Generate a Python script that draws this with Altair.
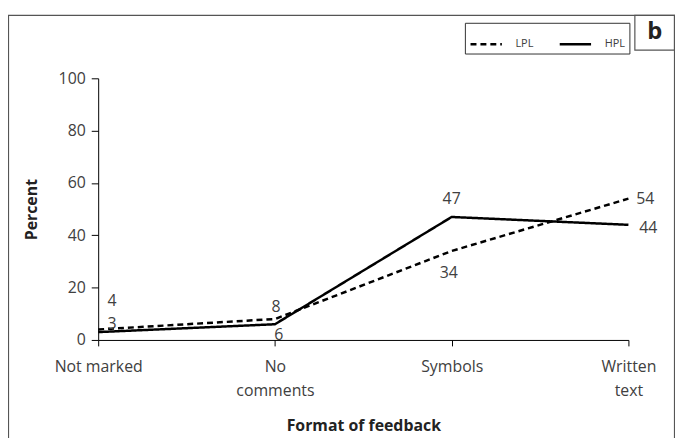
import altair as alt
import pandas as pd

categories = ["Not marked", "No comments", "Symbols", "Written text"]
lpl = [4, 8, 34, 54]
hpl = [3, 6, 47, 44]
series_names = ["LPL", "HPL"]

rows = []
for s, vals in zip(series_names, [lpl, hpl]):
    for c, v in zip(categories, vals):
        rows.append({"format": c, "series": s, "value": v})
df = pd.DataFrame(rows)

FONT = "Open Sans"
TXT = "#404040"

X = alt.X(
    "format:N",
    sort=categories,
    scale=alt.Scale(type="point", padding=0),
    axis=alt.Axis(
        title="Format of feedback",
        labelAngle=0,
        labelExpr="(datum.label == 'No comments' || datum.label == 'Written text') ? split(datum.label, ' ') : datum.label",
        labelLineHeight=24,
        labelPadding=13,
        tickSize=6,
        titlePadding=19,
    ),
)
Y = alt.Y(
    "value:Q",
    scale=alt.Scale(domain=[0, 100]),
    axis=alt.Axis(
        title="Percent",
        values=[0, 20, 40, 60, 80, 100],
        tickSize=7,
        labelPadding=6,
        titlePadding=19,
    ),
)

base = alt.Chart(df)

lines = base.mark_line(color="black", strokeWidth=2.5).encode(
    x=X,
    y=Y,
    detail="series:N",
    strokeDash=alt.StrokeDash(
        "series:N",
        scale=alt.Scale(domain=series_names, range=[[6, 4], [1, 0]]),
        legend=alt.Legend(
            title=None,
            orient="none",
            legendX=370,
            legendY=-56,
            direction="horizontal",
            symbolType="stroke",
            symbolSize=1000,
            symbolStrokeWidth=2.5,
            symbolStrokeColor="black",
            labelFontSize=11,
            labelFont=FONT,
            labelColor=TXT,
            labelOffset=12,
            columnPadding=20,
            padding=4,
            strokeColor="#333333",
        ),
    ),
)


def lab(series, cat, dx, dy):
    return base.transform_filter(
        (alt.datum.series == series) & (alt.datum.format == cat)
    ).mark_text(
        dx=dx, dy=dy, fontSize=16, font=FONT, color=TXT, baseline="middle", align="center"
    ).encode(x=X, y=Y, text="value:Q")


labels = [
    lab("LPL", "Not marked", 14, -29),
    lab("HPL", "Not marked", 14, -8),
    lab("LPL", "No comments", 1, -12),
    lab("HPL", "No comments", 4, 11),
    lab("HPL", "Symbols", 0, -18),
    lab("LPL", "Symbols", -3, 22),
    lab("LPL", "Written text", 17, 0),
    lab("HPL", "Written text", 20, 3),
]

one = alt.Data(values=[{"k": 1}])
frame = alt.Chart(one).mark_rect(fillOpacity=0, stroke="#555555", strokeWidth=1.2).encode(
    x=alt.value(-90.5), x2=alt.value(581.5), y=alt.value(-63.5), y2=alt.value(420)
)
bbox = alt.Chart(one).mark_rect(fillOpacity=0, stroke="#555555", strokeWidth=1.2).encode(
    x=alt.value(541.5), x2=alt.value(581.5), y=alt.value(-63.5), y2=alt.value(-28.5)
)
btext = alt.Chart(one).mark_text(
    text="b", fontSize=24, fontWeight="bold", font=FONT, color="#222222", align="center", baseline="middle"
).encode(x=alt.value(561.5), y=alt.value(-47))

chart = alt.layer(frame, bbox, btext, lines, *labels).properties(
    width=535,
    height=264,
    padding={"left": 91, "top": 69, "right": 47, "bottom": 97},
    autosize="none",
).configure_view(stroke=None).configure_axis(
    grid=False,
    domainColor="black",
    tickColor="black",
    labelFont=FONT,
    labelFontSize=16,
    labelColor=TXT,
    titleFont=FONT,
    titleFontSize=16,
    titleFontWeight="bold",
    titleColor="#222222",
)

chart.save("out.html", embed_options={"renderer": "svg", "actions": False})
